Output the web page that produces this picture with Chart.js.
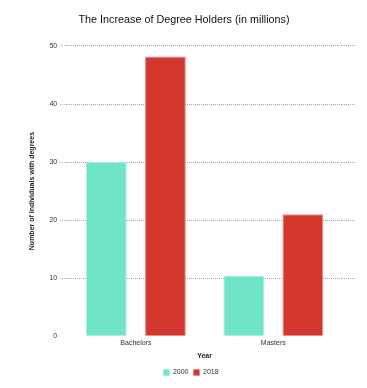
<!DOCTYPE html>
<html>
<head>
<meta charset="utf-8">
<script src="https://cdn.jsdelivr.net/npm/chart.js@4"></script>
<style>
  html, body { margin: 0; padding: 0; background: #fff; }
  #wrap { width: 367px; height: 388px; }
</style>
</head>
<body>
<div id="wrap"><canvas id="myChart" width="367" height="388"></canvas></div>
<script>
const categories = ['Bachelors', 'Masters'];
const seriesNames = ['2000', '2018'];
const values2000 = [30, 10.4];
const values2018 = [48.2, 21];
const yTicks = [0, 10, 20, 30, 40, 50];

const ctx = document.getElementById('myChart');

const tickFont = { family: 'Liberation Sans', size: 7 };
// no dotted line on the zero baseline
const gridColor = c => c.tick && c.tick.value === 0 ? 'rgba(0,0,0,0)' : '#aaa';

// legend sits a little right of the title in the original
const legendShift = {
  id: 'legendShift',
  afterLayout(chart) {
    chart.legend.left += 7;
    chart.legend.right += 7;
  }
};

new Chart(ctx, {
  type: 'bar',
  data: {
    labels: categories,
    datasets: [{
      label: seriesNames[0],
      data: values2000,
      backgroundColor: '#6fe4c6',
      borderColor: '#a8eedb',
      borderWidth: 1
    }, {
      label: seriesNames[1],
      data: values2018,
      backgroundColor: '#d3382f',
      borderColor: '#e98a84',
      borderWidth: 1
    }]
  },
  options: {
    responsive: false,
    animation: false,
    layout: { padding: { left: 12, right: 11, top: 4, bottom: 2 } },
    categoryPercentage: 0.86,
    barPercentage: 0.69,
    plugins: {
      title: {
        display: true,
        text: 'The Increase of Degree Holders (in millions)',
        color: '#111',
        font: { family: 'Liberation Sans', size: 10.8, weight: 'normal' },
        padding: { top: 10, bottom: 19 }
      },
      legend: {
        position: 'bottom',
        labels: {
          boxWidth: 6,
          boxHeight: 6,
          color: '#333',
          font: tickFont,
          padding: 5
        }
      },
      tooltip: { enabled: false }
    },
    scales: {
      x: {
        grid: { display: false, drawTicks: false },
        border: { display: false },
        ticks: { color: '#333', font: tickFont, padding: 3 },
        title: {
          display: true,
          text: 'Year',
          color: '#222',
          font: { family: 'Liberation Sans', size: 7, weight: 'bold' },
          padding: { top: 1, bottom: 4 }
        }
      },
      y: {
        min: 0,
        max: 50,
        afterBuildTicks: axis => { axis.ticks = yTicks.map(v => ({ value: v })); },
        grid: {
          color: gridColor,
          lineWidth: 1,
          tickLength: 7,
          drawTicks: true,
          tickBorderDash: [1, 1]
        },
        border: { display: false, dash: [1, 1] },
        ticks: { color: '#333', font: tickFont, padding: 3 },
        title: {
          display: true,
          text: 'Number of Individuals with degrees',
          color: '#222',
          font: { family: 'Liberation Sans', size: 7, weight: 'bold' },
          padding: { top: 16, bottom: 10 }
        }
      },
      yRight: {
        position: 'right',
        min: 0,
        max: 50,
        afterBuildTicks: axis => { axis.ticks = yTicks.map(v => ({ value: v })); },
        grid: {
          color: gridColor,
          drawOnChartArea: false,
          drawTicks: true,
          tickLength: 14,
          tickBorderDash: [1, 1]
        },
        border: { display: false },
        ticks: { display: false }
      }
    }
  },
  plugins: [legendShift]
});
</script>
</body>
</html>
